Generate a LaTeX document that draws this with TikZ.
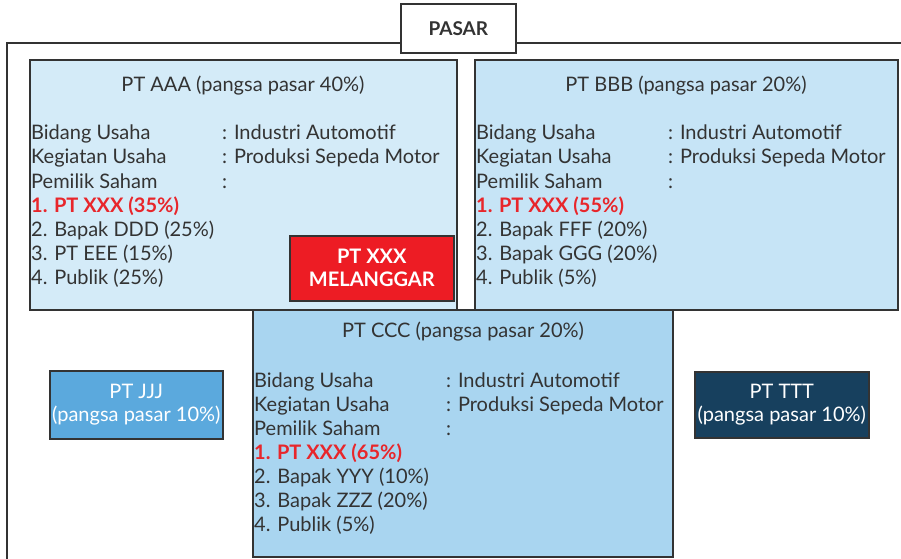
\documentclass[tikz,border=0pt]{standalone}
\usepackage{fontspec}
\setmainfont{Lato}
\definecolor{txt}{HTML}{333333}
\definecolor{edge}{HTML}{333333}
\definecolor{aaa}{HTML}{D4EBF8}
\definecolor{bbb}{HTML}{C6E4F6}
\definecolor{ccc}{HTML}{A9D5F0}
\definecolor{jjj}{HTML}{5BA9DD}
\definecolor{ttt}{HTML}{17405E}
\definecolor{redbox}{HTML}{ED1C24}
\definecolor{redtxt}{HTML}{E8262B}
\tikzset{
  box/.style={draw=edge, line width=1.6pt, inner sep=0pt, anchor=north west},
  ln/.style={anchor=base west, inner sep=0pt, text=txt, font=\fontsize{20}{23}\selectfont},
  hl/.style={anchor=base west, inner sep=0pt, text=redtxt, font=\fontsize{20}{23}\selectfont\bfseries},
  ttl/.style={anchor=base, inner sep=0pt, text=txt, font=\fontsize{20}{23}\selectfont},
  small/.style={align=center, font=\fontsize{20}{23}\selectfont},
}
\begin{document}
\begin{tikzpicture}[x=1pt,y=-1pt]
\useasboundingbox (0,0) rectangle (901,558);
% outer market frame
\draw[edge, line width=1.6pt] (905,43) -- (7,43) -- (7,562);
\node[box, fill=white, minimum width=115pt, minimum height=49pt] (pasar) at (400,3) {};
\node[font=\fontsize{19}{22}\selectfont\bfseries, text=txt] at (pasar.center) {PASAR};

% PT AAA
\node[box, fill=aaa, minimum width=427pt, minimum height=250pt] (aaa) at (29,59) {};
\node[ttl] (aaat) at (243,91) {PT AAA (pangsa pasar 40\%)};
\node[ln] (a1) at (31,139) {Bidang Usaha};
\node[ln] (a1c) at (222,139) {: Industri Automotif};
\node[ln] (a2) at (31,163) {Kegiatan Usaha};
\node[ln] (a2c) at (222,163) {: Produksi Sepeda Motor};
\node[ln] (a3) at (31,188) {Pemilik Saham};
\node[ln] (a3c) at (222,188) {:};
\node[hl] (a4) at (31,212) {1. PT XXX (35\%)};
\node[ln] (a5) at (31,236) {2. Bapak DDD (25\%)};
\node[ln] (a6) at (31,260) {3. PT EEE (15\%)};
\node[ln] (a7) at (31,284) {4. Publik (25\%)};

% PT BBB
\node[box, fill=bbb, minimum width=423pt, minimum height=250pt] (bbb) at (474,59) {};
\node[ttl] (bbbt) at (686,91) {PT BBB (pangsa pasar 20\%)};
\node[ln] (b1) at (476,139) {Bidang Usaha};
\node[ln] (b1c) at (668,139) {: Industri Automotif};
\node[ln] (b2) at (476,163) {Kegiatan Usaha};
\node[ln] (b2c) at (668,163) {: Produksi Sepeda Motor};
\node[ln] (b3) at (476,188) {Pemilik Saham};
\node[ln] (b3c) at (668,188) {:};
\node[hl] (b4) at (476,212) {1. PT XXX (55\%)};
\node[ln] (b5) at (476,236) {2. Bapak FFF (20\%)};
\node[ln] (b6) at (476,260) {3. Bapak GGG (20\%)};
\node[ln] (b7) at (476,284) {4. Publik (5\%)};

% red box
\node[box, fill=redbox, minimum width=164pt, minimum height=65pt] (red) at (289,235) {};
\node[small, text=white, font=\fontsize{20}{23}\selectfont\bfseries] (redt) at (red.center) {PT XXX\\MELANGGAR};

% PT CCC
\node[box, fill=ccc, minimum width=420pt, minimum height=247pt] (ccc) at (252,309) {};
\node[ttl] (ccct) at (463,337) {PT CCC (pangsa pasar 20\%)};
\node[ln] (c1) at (254,387) {Bidang Usaha};
\node[ln] (c1c) at (446,387) {: Industri Automotif};
\node[ln] (c2) at (254,411) {Kegiatan Usaha};
\node[ln] (c2c) at (446,411) {: Produksi Sepeda Motor};
\node[ln] (c3) at (254,435) {Pemilik Saham};
\node[ln] (c3c) at (446,435) {:};
\node[hl] (c4) at (254,459) {1. PT XXX (65\%)};
\node[ln] (c5) at (254,483) {2. Bapak YYY (10\%)};
\node[ln] (c6) at (254,507) {3. Bapak ZZZ (20\%)};
\node[ln] (c7) at (254,531) {4. Publik (5\%)};

% PT JJJ
\node[box, fill=jjj, minimum width=173pt, minimum height=68pt] (jjj) at (49,370) {};
\node[small, text=white] (jjjt) at (jjj.center) {PT JJJ\\(pangsa pasar 10\%)};

% PT TTT
\node[box, fill=ttt, minimum width=174pt, minimum height=66pt] (ttt) at (694,371) {};
\node[small, text=white] (tttt) at (ttt.center) {PT TTT\\(pangsa pasar 10\%)};
\end{tikzpicture}
\end{document}
